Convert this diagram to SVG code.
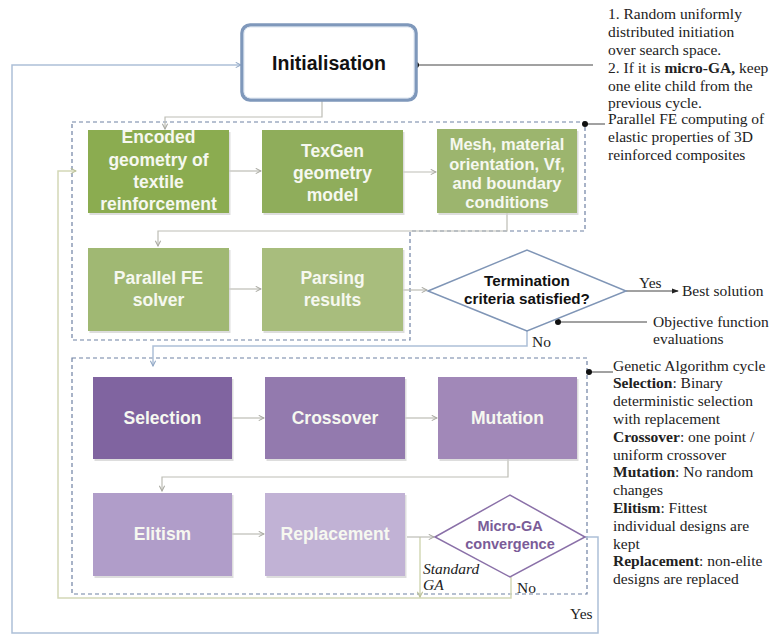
<svg xmlns="http://www.w3.org/2000/svg" width="775" height="636" viewBox="0 0 775 636">
<style>
.bx{font-family:"Liberation Sans",Arial,sans-serif;font-weight:bold;fill:#f6f8f0;text-anchor:middle}
.dk{font-family:"Liberation Sans",Arial,sans-serif;font-weight:bold;fill:#111;text-anchor:middle}
.nt{font-family:"Liberation Serif","Times New Roman",serif;font-size:15.5px;fill:#222}
.nt tspan.b{font-weight:bold}
.sh{fill:#cfcfcf;opacity:0.7}
.dash{fill:none;stroke:#6f81a3;stroke-width:1.2;stroke-dasharray:4 3}
.cg{fill:none;stroke:#bdbdb5;stroke-width:1.2}
.cb{fill:none;stroke:#adc0d8;stroke-width:1.5}
.co{fill:none;stroke:#d3d8b6;stroke-width:1.5}
.ck{fill:none;stroke:#444;stroke-width:1}
.dot{fill:#111}
</style>
<defs>
<marker id="ag" viewBox="0 0 8 8" refX="7" refY="4" markerWidth="7" markerHeight="7" orient="auto" markerUnits="userSpaceOnUse"><path d="M1,1 L7,4 L1,7" fill="none" stroke="#a8a8a0" stroke-width="1.2"/></marker>
<marker id="ab" viewBox="0 0 8 8" refX="7" refY="4" markerWidth="7" markerHeight="7" orient="auto" markerUnits="userSpaceOnUse"><path d="M1,1 L7,4 L1,7" fill="none" stroke="#8fa6c4" stroke-width="1.2"/></marker>
<marker id="ao" viewBox="0 0 8 8" refX="7" refY="4" markerWidth="7" markerHeight="7" orient="auto" markerUnits="userSpaceOnUse"><path d="M1,1 L7,4 L1,7" fill="none" stroke="#b9bf96" stroke-width="1.2"/></marker>
<marker id="ak" viewBox="0 0 8 8" refX="7" refY="4" markerWidth="7" markerHeight="7" orient="auto" markerUnits="userSpaceOnUse"><path d="M0,1 L8,4 L0,7 Z" fill="#222"/></marker>
</defs>
<rect width="775" height="636" fill="#fff"/>

<g id="regions">
<path id="fe-region" class="dash" d="M72,122 H585 V231 H410 V340 H72 Z"/>
<rect id="ga-region" class="dash" x="72" y="358" width="515" height="236"/>
</g>

<g id="connectors">
<path class="cb" d="M585,537 H598 V633 H12 V65 H241" marker-end="url(#ab)"/>
<path class="co" d="M511,577 V598 H58 V171 H76" marker-end="url(#ao)"/>
<path class="co" d="M420,537 V597" marker-end="url(#ao)"/>
<path class="cg" d="M322,100 V117 H165 V129" marker-end="url(#ag)"/>
<path class="cg" d="M229,171 H261" marker-end="url(#ag)"/>
<path class="cg" d="M403,172 H436" marker-end="url(#ag)"/>
<path class="cg" d="M507,213 V231 H158 V246" marker-end="url(#ag)"/>
<path class="cg" d="M229,289 H261" marker-end="url(#ag)"/>
<path class="cg" d="M403,290 H427" marker-end="url(#ag)"/>
<path class="cb" d="M527,331 V346 H153 V366" marker-end="url(#ab)"/>
<path class="ck" d="M626,291 H678" marker-end="url(#ak)"/>
<path class="cg" d="M232,418 H264" marker-end="url(#ag)"/>
<path class="cg" d="M405,418 H437" marker-end="url(#ag)"/>
<path class="cg" d="M508,459 V477 H162 V491" marker-end="url(#ag)"/>
<path class="cg" d="M232,534 H264" marker-end="url(#ag)"/>
<path class="cg" d="M407,537 H434" marker-end="url(#ag)"/>
<path class="ck" d="M416,65 H593"/>
<circle class="dot" cx="416" cy="65" r="3"/>
<path class="ck" d="M585,124 H605"/>
<circle class="dot" cx="585" cy="124" r="3"/>
<path class="ck" d="M558,322 H647"/>
<circle class="dot" cx="558" cy="322" r="3"/>
<path class="ck" d="M589,372 H613"/>
<circle class="dot" cx="589" cy="372" r="3"/>
</g>

<g id="n-init">
<rect x="242" y="25" width="174" height="75" rx="8" fill="#fff" stroke="#7f98bb" stroke-width="3.5"/>
<rect x="244" y="27" width="170" height="71" rx="6.5" fill="none" stroke="#dde6f1" stroke-width="1"/>
<text class="dk" x="329" y="70" font-size="19.5">Initialisation</text>
</g>

<g id="n-encoded">
<rect class="sh" x="89.5" y="132" width="141" height="83"/>
<rect x="88" y="130" width="141" height="83" fill="#8bac50"/>
<text class="bx" x="158.5" font-size="17.5"><tspan x="158.5" y="143">Encoded</tspan><tspan x="158.5" y="165.5">geometry of</tspan><tspan x="158.5" y="188">textile</tspan><tspan x="158.5" y="210">reinforcement</tspan></text>
</g>
<g id="n-texgen">
<rect class="sh" x="263.5" y="132" width="141" height="83"/>
<rect x="262" y="130" width="141" height="83" fill="#8fad5b"/>
<text class="bx" x="332.5" font-size="17.5"><tspan x="332.5" y="157">TexGen</tspan><tspan x="332.5" y="179">geometry</tspan><tspan x="332.5" y="201">model</tspan></text>
</g>
<g id="n-mesh">
<rect class="sh" x="438.5" y="131" width="140" height="84"/>
<rect x="437" y="129" width="140" height="84" fill="#9cb56e"/>
<text class="bx" x="507" font-size="16.5"><tspan x="507" y="150">Mesh, material</tspan><tspan x="507" y="170">orientation, Vf,</tspan><tspan x="507" y="189">and boundary</tspan><tspan x="507" y="208">conditions</tspan></text>
</g>
<g id="n-solver">
<rect class="sh" x="89.5" y="250" width="141" height="83"/>
<rect x="88" y="248" width="141" height="83" fill="#a0b873"/>
<text class="bx" x="158.5" font-size="17.5"><tspan x="158.5" y="284">Parallel FE</tspan><tspan x="158.5" y="306">solver</tspan></text>
</g>
<g id="n-parsing">
<rect class="sh" x="263.5" y="250" width="141" height="83"/>
<rect x="262" y="248" width="141" height="83" fill="#a8bd7d"/>
<text class="bx" x="332.5" font-size="17.5"><tspan x="332.5" y="284">Parsing</tspan><tspan x="332.5" y="306">results</tspan></text>
</g>
<g id="n-termination">
<polygon points="428,291 527,250 626,291 527,331" fill="#fff" stroke="#7f95b6" stroke-width="1.5"/>
<text class="dk" x="527" font-size="15.2"><tspan x="527" y="286">Termination</tspan><tspan x="527" y="304">criteria satisfied?</tspan></text>
</g>

<g id="n-selection">
<rect class="sh" x="94.5" y="379" width="139" height="82"/>
<rect x="93" y="377" width="139" height="82" fill="#8064a0"/>
<text class="bx" x="162.5" y="424" font-size="17.5">Selection</text>
</g>
<g id="n-crossover">
<rect class="sh" x="266.5" y="379" width="140" height="82"/>
<rect x="265" y="377" width="140" height="82" fill="#937aae"/>
<text class="bx" x="335" y="424" font-size="17.5">Crossover</text>
</g>
<g id="n-mutation">
<rect class="sh" x="439.5" y="379" width="139" height="82"/>
<rect x="438" y="377" width="139" height="82" fill="#a188b8"/>
<text class="bx" x="507.5" y="424" font-size="17.5">Mutation</text>
</g>
<g id="n-elitism">
<rect class="sh" x="94.5" y="495" width="139" height="83"/>
<rect x="93" y="493" width="139" height="83" fill="#b09dc9"/>
<text class="bx" x="162.5" y="540" font-size="17.5">Elitism</text>
</g>
<g id="n-replacement">
<rect class="sh" x="266.5" y="495" width="140" height="83"/>
<rect x="265" y="493" width="140" height="83" fill="#c1b2d5"/>
<text class="bx" x="335" y="540" font-size="17.5">Replacement</text>
</g>
<g id="n-microga">
<polygon points="435,537 510,495 585,537 510,577" fill="#fff" stroke="#8a70a8" stroke-width="1.5"/>
<text class="dk" x="510" font-size="14.5" style="fill:#7a5c98"><tspan x="510" y="531">Micro-GA</tspan><tspan x="510" y="549">convergence</tspan></text>
</g>

<g id="labels">
<text class="nt" x="639" y="288">Yes</text>
<text class="nt" x="682" y="296">Best solution</text>
<text class="nt" x="532" y="347">No</text>
<text class="nt" x="517" y="593">No</text>
<text class="nt" x="570" y="619">Yes</text>
<text class="nt" x="423" y="574" font-size="12" font-style="italic">Standard</text>
<text class="nt" x="423" y="590" font-size="12" font-style="italic">GA</text>
</g>

<g id="annotations">
<text class="nt"><tspan x="608" y="19">1. Random uniformly</tspan><tspan x="608" y="37">distributed initiation</tspan><tspan x="608" y="55">over search space.</tspan><tspan x="608" y="73">2. If it is <tspan class="b">micro-GA,</tspan> keep</tspan><tspan x="608" y="90.5">one elite child from the</tspan><tspan x="608" y="108">previous cycle.</tspan></text>
<text class="nt"><tspan x="608" y="124">Parallel FE computing of</tspan><tspan x="608" y="142">elastic properties of 3D</tspan><tspan x="608" y="159.5">reinforced composites</tspan></text>
<text class="nt"><tspan x="653" y="327">Objective function</tspan><tspan x="653" y="344">evaluations</tspan></text>
<text class="nt"><tspan x="613" y="370.5">Genetic Algorithm cycle</tspan><tspan x="613" y="388.3"><tspan class="b">Selection</tspan>: Binary</tspan><tspan x="613" y="406.1">deterministic selection</tspan><tspan x="613" y="423.9">with replacement</tspan><tspan x="613" y="441.7"><tspan class="b">Crossover</tspan>: one point /</tspan><tspan x="613" y="459.5">uniform crossover</tspan><tspan x="613" y="477.3"><tspan class="b">Mutation</tspan>: No random</tspan><tspan x="613" y="495.1">changes</tspan><tspan x="613" y="512.9"><tspan class="b">Elitism</tspan>: Fittest</tspan><tspan x="613" y="530.7">individual designs are</tspan><tspan x="613" y="548.5">kept</tspan><tspan x="613" y="566.3"><tspan class="b">Replacement</tspan>: non-elite</tspan><tspan x="613" y="584.1">designs are replaced</tspan></text>
</g>
</svg>
